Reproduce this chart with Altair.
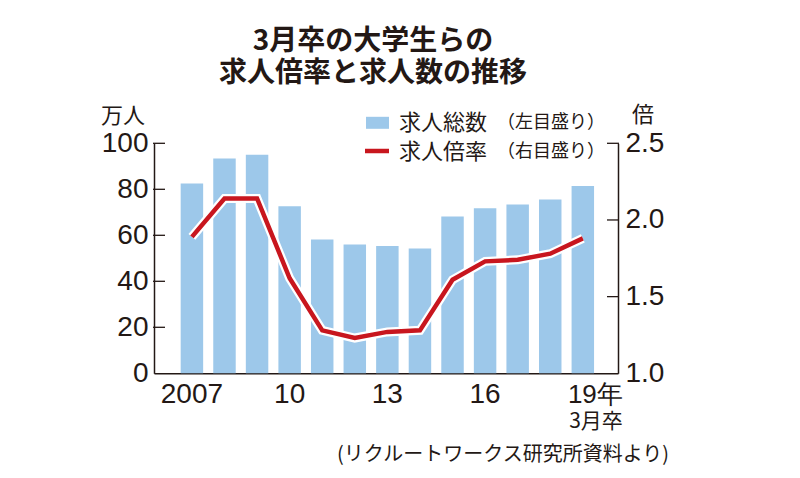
import altair as alt
import pandas as pd

# ---- data ----
years = [2007, 2008, 2009, 2010, 2011, 2012, 2013, 2014, 2015, 2016, 2017, 2018, 2019]
openings = [82.5, 93.4, 95.0, 72.6, 58.2, 56.0, 55.4, 54.3, 68.2, 71.8, 73.4, 75.6, 81.4]  # 万人
ratios = [1.89, 2.14, 2.14, 1.62, 1.28, 1.23, 1.27, 1.28, 1.61, 1.73, 1.74, 1.78, 1.88]   # 倍
left_ticks = [20, 40, 60, 80, 100]
right_ticks = [1.5, 2.0, 2.5]
x_label_years = [2007, 2010, 2013, 2016]

df = pd.DataFrame({"year": years, "openings": openings, "ratio": ratios})

W, H = 464, 230
BLUE = "#9dc8ea"
RED = "#c8161e"
INK = "#231815"
CJK = "Noto Sans CJK JP"
NUM = "Liberation Sans"

x_enc = alt.X(
    "year:O",
    scale=alt.Scale(paddingInner=0.31, paddingOuter=0.777, align=0.527),
    axis=alt.Axis(
        values=x_label_years,
        labelExpr="datum.value == 2007 ? '2007' : slice(toString(datum.value), 2)",
        title=None, labelAngle=0, ticks=False, domain=True,
        domainColor=INK, domainWidth=1.5,
        labelFont=NUM, labelFontSize=28, labelColor=INK, labelPadding=7,
    ),
)

left_axis = alt.Axis(
    values=[0, 20, 40, 60, 80, 100], title=None, ticks=False, grid=False,
    domainColor=INK, domainWidth=1.5, labelFont=NUM, labelFontSize=28,
    labelColor=INK, labelPadding=6,
)
right_axis = alt.Axis(
    values=[1.0, 1.5, 2.0, 2.5], format=".1f", orient="right", title=None,
    ticks=False, grid=False, domainColor=INK, domainWidth=1.5,
    labelFont=NUM, labelFontSize=28, labelColor=INK, labelPadding=7,
)
y_left = alt.Scale(domain=[0, 100], nice=False, zero=True)
y_right = alt.Scale(domain=[1.0, 2.5], nice=False, zero=False)

bars = alt.Chart(df).mark_bar(color=BLUE).encode(
    x=x_enc,
    y=alt.Y("openings:Q", scale=y_left, axis=left_axis),
)
lticks = alt.Chart(pd.DataFrame({"v": left_ticks})).mark_rule(color=INK, strokeWidth=1.3).encode(
    y=alt.Y("v:Q", scale=y_left, axis=left_axis),
    x=alt.value(-1), x2=alt.value(11),
)
left = alt.layer(bars, lticks)

halo = alt.Chart(df).mark_line(color="white", strokeWidth=9).encode(
    x=x_enc, y=alt.Y("ratio:Q", scale=y_right, axis=right_axis),
)
line = alt.Chart(df).mark_line(color=RED, strokeWidth=4.5).encode(
    x=x_enc, y=alt.Y("ratio:Q", scale=y_right, axis=right_axis),
)
rticks = alt.Chart(pd.DataFrame({"v": right_ticks})).mark_rule(color=INK, strokeWidth=1.3).encode(
    y=alt.Y("v:Q", scale=y_right, axis=right_axis),
    x=alt.value(W - 11), x2=alt.value(W + 1),
)
right = alt.layer(halo, line, rticks)


def label(text, x, y, size, align="center", weight="normal", font=CJK):
    return alt.Chart(pd.DataFrame({"t": [text]})).mark_text(
        align=align, baseline="middle", fontSize=size, font=font,
        fontWeight=weight, color=INK,
    ).encode(x=alt.value(x), y=alt.value(y), text="t:N")


year_last = alt.Chart(pd.DataFrame({"year": [2019], "t": ["19年"]})).mark_text(
    align="right", baseline="middle", fontSize=26, font=NUM, color=INK, dx=40,
).encode(x=x_enc, y=alt.value(252), text="t:N")
grad = alt.Chart(pd.DataFrame({"year": [2019], "t": ["3月卒"]})).mark_text(
    align="right", baseline="middle", fontSize=21, font=CJK, color=INK, dx=40,
).encode(x=x_enc, y=alt.value(279), text="t:N")

legend_rect = alt.Chart(pd.DataFrame({"k": [0]})).mark_rect(color=BLUE).encode(
    x=alt.value(212), x2=alt.value(235), y=alt.value(-26.5), y2=alt.value(-14.5),
)
legend_line = alt.Chart(pd.DataFrame({"k": [0]})).mark_rule(color=RED, strokeWidth=4.5).encode(
    x=alt.value(211), x2=alt.value(235), y=alt.value(7.7),
)

texts = [
    label("3月卒の大学生らの", 219, -101.5, 28, weight="bold"),
    label("求人倍率と求人数の推移", 219, -69.5, 28, weight="bold"),
    label("万人", -31, -27, 22),
    label("倍", 489, -28, 22),
    label("求人総数", 245, -20.8, 22, align="left"),
    label("（左目盛り）", 343, -20.8, 18, align="left"),
    label("求人倍率", 245, 8.2, 22, align="left"),
    label("（右目盛り）", 343, 8.2, 18, align="left"),
    label("(リクルートワークス研究所資料より)", 515, 312, 20, align="right"),
]

chart = alt.layer(
    alt.layer(left, right).resolve_scale(y="independent"),
    year_last, grad, legend_rect, legend_line, *texts,
).properties(
    width=W, height=H,
    autosize=alt.AutoSizeParams(type="none"),
    padding={"left": 146, "top": 135.3, "right": 174, "bottom": 96.7},
    background="white",
).configure_view(stroke=None)

chart.save("out.html", embed_options={"renderer": "svg", "actions": False})
